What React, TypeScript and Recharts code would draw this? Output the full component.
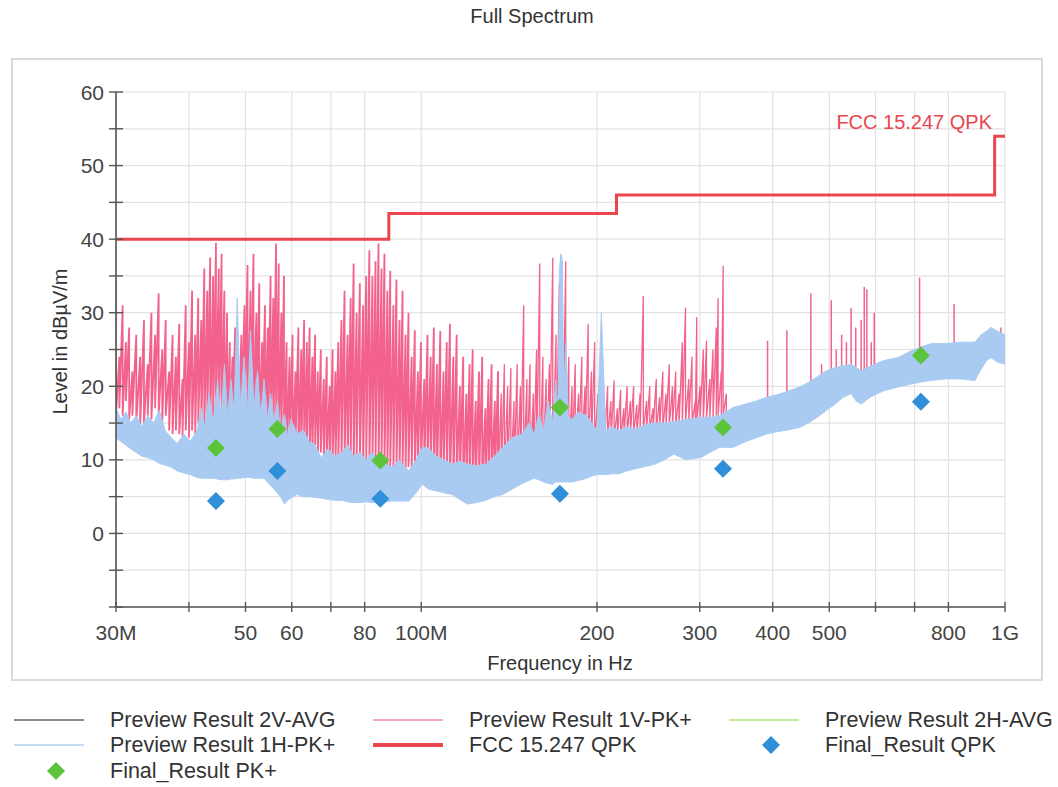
import React from 'react'
import { Area, CartesianGrid, ComposedChart, Line, Scatter, XAxis, YAxis } from 'recharts'

const FONT = '"Liberation Sans", Arial, sans-serif'

// frequency axis (MHz), labels blank where the original shows only a tick
const FREQ_TICKS = [30, 40, 50, 60, 70, 80, 100, 200, 300, 400, 500, 600, 700, 800, 1000]
const FREQ_TICK_LABELS = ['30M', '', '50', '60', '', '80', '100M', '200', '300', '400', '500', '', '', '800', '1G']
const LEVEL_TICKS = [-10, -5, 0, 5, 10, 15, 20, 25, 30, 35, 40, 45, 50, 55, 60]

// Preview Result 1V-PK+ : [MHz, peak, trough]
const PREVIEW_1V_PK: [number, number, number][] = [
  [30.0, 34.5, 16], [30.4, 24, 17], [30.8, 31, 16], [31.2, 26, 18], [31.6, 28, 15.5], [32.0, 22, 16], [32.5, 27, 15], [33.0, 24, 14.5],
  [33.5, 29, 15], [34.0, 23, 16], [34.5, 30, 15.5], [35.0, 27, 17], [35.5, 32.6, 16], [36.0, 25, 15], [36.5, 29, 16], [37.0, 22, 14],
  [37.5, 27, 13.5], [38.0, 24, 14], [38.5, 28.5, 13.5], [39.0, 21, 13], [39.5, 31, 14], [40.0, 26, 13], [40.5, 33, 14], [41.0, 27, 13.5],
  [41.5, 32, 15], [42.0, 29, 13], [42.5, 36, 14], [43.0, 33, 15], [43.5, 37.5, 13.5], [44.0, 35, 14], [44.5, 39.5, 16], [45.0, 36, 15],
  [45.5, 38, 14], [46.0, 33, 13], [46.5, 30, 14], [47.0, 26, 13.5], [47.5, 24, 15], [48.0, 28, 14], [48.6, 22, 14], [49.2, 27, 15],
  [49.8, 31, 14], [50.4, 36.5, 15], [51.0, 33, 14], [51.6, 38, 16], [52.2, 30, 15], [52.8, 34, 14], [53.4, 26, 15], [54.0, 31, 14],
  [54.6, 28, 13], [55.2, 35, 14], [55.8, 32, 12], [56.4, 39.4, 13], [57.0, 36.7, 12], [57.6, 30, 13], [58.2, 35, 12], [58.8, 26, 11],
  [59.5, 24, 11.5], [60.2, 27, 11], [60.9, 22, 12], [61.6, 28, 10], [62.3, 25, 11], [63.0, 29, 10.5], [63.7, 26, 12], [64.4, 28, 10],
  [65.1, 24, 11], [65.8, 27, 12], [66.5, 22, 10], [67.3, 25, 11], [68.1, 21, 9.5], [68.9, 24, 10], [69.7, 20, 9.5], [70.5, 25, 10],
  [71.3, 22, 9.5], [72.1, 26, 10], [73.0, 29, 9.5], [73.9, 33, 10], [74.8, 27, 9], [75.7, 32, 10], [76.6, 36.7, 9.5], [77.5, 30, 10],
  [78.5, 34, 9], [79.5, 31, 9.5], [80.5, 35, 10], [81.5, 38.5, 9], [82.5, 35, 9.5], [83.5, 37, 10], [84.5, 39.4, 9], [85.5, 36, 9.5],
  [86.5, 38, 9], [87.5, 33, 8.5], [88.5, 35.7, 9], [89.6, 31, 8.5], [90.7, 34.5, 9], [91.8, 29, 8.5], [92.9, 33, 9], [94.0, 27, 8.5],
  [95.1, 30, 9], [96.3, 24, 9], [97.5, 27.6, 8.5], [98.7, 22, 9], [99.9, 26, 9.5], [101.2, 21, 8], [102.5, 27, 9], [103.8, 24, 8],
  [105.1, 28, 7.5], [106.4, 23, 7], [107.8, 27.5, 7], [109.2, 22, 7.5], [110.6, 26, 7], [112.0, 28.5, 7], [113.5, 24, 6.5], [115.0, 27, 7],
  [116.5, 20, 7], [118.0, 24, 6.5], [119.5, 19, 6.5], [121.0, 23, 6.5], [122.5, 25, 7], [124.0, 18, 6.5], [125.6, 22, 6.5], [127.2, 24, 7],
  [128.8, 17, 6.5], [130.4, 21, 7], [132.0, 23, 7], [133.7, 18, 7], [135.4, 22, 7.5], [137.1, 19, 7], [138.8, 23, 7.5], [140.6, 20, 7.5],
  [142.4, 22.5, 7.5], [144.2, 18, 7.5], [146.0, 23, 8], [147.9, 20, 7.5], [149.8, 31, 7.5], [151.7, 21, 8], [153.6, 23, 7.5], [155.6, 19, 8],
  [157.6, 25, 8.5], [159.6, 36.7, 8], [161.6, 24, 9], [163.7, 21, 8.5], [165.8, 23, 9], [168.0, 37.5, 9], [170.2, 27, 9], [172.4, 34, 9.5],
  [174.6, 26, 9], [176.8, 37, 9.5], [179.0, 24, 10], [181.3, 20, 10], [183.6, 23, 11], [186.0, 19, 11], [188.4, 24, 11.5], [190.8, 20, 11.5],
  [193.2, 28.5, 11.5], [195.7, 22, 12], [198.2, 26, 12], [200.8, 19, 12], [203.4, 21, 12.5], [206.0, 17, 12], [208.6, 20, 13], [211.3, 18, 12.5],
  [214.0, 20.8, 13], [216.8, 17, 13], [219.6, 19.5, 13], [222.4, 17, 13], [225.3, 20, 13.5], [228.2, 18, 13.5], [231.1, 20, 13.5], [234.1, 17.5, 13.5],
  [237.1, 19, 13.5], [240.1, 32.3, 14], [243.2, 18, 14], [246.3, 20, 14], [249.5, 17, 14], [252.7, 21, 14], [256.0, 18.5, 14], [259.3, 22, 14],
  [262.6, 19, 14.5], [266.0, 23, 14.5], [269.4, 20, 14.5], [272.9, 22, 14.5], [276.4, 19, 14.5], [280.0, 26, 14.5], [283.6, 30.7, 15], [287.3, 21, 15],
  [291.0, 24, 15], [294.7, 18, 15], [296.5, 29.4, 15], [300.3, 20, 15], [304.2, 25, 15], [308.1, 26.2, 15.5], [312.1, 21, 15.5], [316.1, 25, 15.5],
  [320.2, 28, 16], [322.5, 32, 16], [326.6, 22, 16], [329.0, 36.4, 16], [333.2, 19, 15], [337.5, 16, 14],
  [345, 15.5, 13], [355, 16, 13.5], [365, 16.5, 14], [375, 17, 14.5], [385, 17, 14.5], [392, 26.2, 15], [400, 17.3, 15], [410, 18.5, 15.5],
  [423, 27.6, 15.5], [435, 18.5, 16], [445, 19, 16.5], [455, 19.5, 16.5], [465, 32.6, 17], [475, 20, 17.5], [485, 23, 18], [494, 21.5, 18.5],
  [504, 31.7, 19], [514, 25, 19.5], [525, 27, 20], [535, 26, 20.5], [545, 30.6, 20.5], [555, 28, 20], [567, 29, 19.5], [574, 33.5, 20],
  [580, 33.2, 20.5], [590, 26, 20.5], [597, 30, 20.5], [610, 22, 21], [625, 22.5, 21], [640, 22.5, 21.5], [655, 23, 21.5], [670, 23.5, 22],
  [685, 23.5, 22], [700, 24, 22.5], [714, 34.8, 22.5], [730, 24.5, 23], [745, 25, 23], [760, 24.5, 23], [775, 25, 23.5], [790, 24.5, 23.5],
  [805, 25, 23.5], [818, 31.2, 23.5], [835, 25, 23.5], [850, 24.5, 23], [870, 25, 23], [890, 25, 22.5], [910, 26, 23], [930, 26.5, 24],
  [950, 27, 24.5], [970, 26.5, 24], [984, 28, 24], [1000, 26.5, 24],
]

// Preview Result 1H-PK+ : [MHz, low, high]
const PREVIEW_1H_PK: [number, number, number][] = [
  [30.0, 13, 17], [30.6, 12.5, 15.5], [31.2, 12, 16.5], [31.8, 11.5, 15], [32.5, 11, 16], [33.2, 10.5, 14.5], [34.0, 10.3, 16], [34.8, 10, 15],
  [35.6, 9.5, 16.7], [36.4, 9.3, 14], [37.3, 9, 13], [38.2, 8.5, 12.2], [39.2, 8.2, 13.5], [40.2, 8, 12.5], [41.3, 7.6, 14], [42.0, 7.5, 17],
  [42.6, 7.5, 14.5], [43.3, 7.5, 19], [44.0, 7.5, 15], [44.8, 7.4, 20.8], [45.4, 7.3, 15.5], [46.0, 7.3, 23], [46.6, 7.3, 16], [47.2, 7.4, 21],
  [47.8, 7.4, 16.5], [48.4, 7.5, 32], [49.0, 7.5, 17], [49.7, 7.6, 24], [50.4, 7.6, 16.5], [51.0, 7.6, 27.6], [51.7, 7.5, 17], [52.4, 7.5, 22],
  [53.1, 7.5, 16], [53.8, 7.5, 21], [54.5, 7, 15.5], [55.2, 6.5, 19], [56.0, 6, 15], [56.7, 5.5, 18], [57.4, 5, 14], [58.3, 4, 16.2],
  [59.1, 4.5, 13], [59.8, 4.8, 15.5], [61.3, 5.3, 13.5], [62.8, 5, 14], [64.3, 5, 12.5], [65.8, 4.9, 12], [67.4, 4.8, 10.3], [69.2, 4.6, 11.5],
  [71.1, 4.5, 10.5], [73.0, 4.5, 11], [74.8, 4.3, 12], [76.6, 4.2, 10.5], [78.5, 4.2, 11], [80.4, 4.3, 10], [82.3, 4.2, 11], [84.3, 4.2, 10],
  [86.6, 4.3, 9.5], [89.0, 4.4, 9], [91.6, 4.4, 10], [95.2, 4.4, 8.5], [98.0, 5.5, 10], [100.3, 6.7, 11.7], [103.0, 6, 11.6], [106.0, 5.8, 10.5],
  [109.5, 5.5, 10], [113.0, 5.3, 9.4], [116.5, 4.6, 9.8], [120.0, 4, 9.4], [124.5, 4.2, 9.2], [129.0, 4.5, 9.4], [133.5, 5, 10.5], [138.0, 5.3, 11.7],
  [143.0, 6, 13], [149.0, 6.8, 13.5], [153.0, 7.2, 15], [156.0, 7.5, 13.5], [159.0, 7.3, 16.2], [162.0, 7, 14], [165.0, 6.8, 18], [168.0, 6.7, 15],
  [170.0, 7, 20.8], [171.5, 7, 16], [172.5, 7, 36], [173.5, 7, 38], [174.5, 7, 37], [175.5, 7, 18], [177.0, 7, 26], [178.5, 7, 16],
  [181.0, 7, 15.5], [186.0, 7.2, 16.5], [192.0, 7.5, 16], [196.0, 7.8, 15], [200.0, 8, 14], [203.5, 8, 30], [207.0, 8, 14], [212.0, 8.1, 14.5],
  [218.0, 8.1, 14], [225.0, 8.5, 14.5], [233.0, 8.8, 14.2], [242.0, 9.1, 14.8], [251.0, 9.4, 15], [261.0, 10, 15], [271.0, 10.8, 15.2], [284.0, 10, 15.5],
  [293.0, 10.2, 15.6], [301.0, 10.3, 15.8], [312.0, 11, 15.8], [324.0, 11.7, 16], [342.0, 11.7, 17.1], [360.0, 12.5, 17.6], [375.0, 13, 18], [390.0, 13.5, 18.5],
  [405.0, 13.8, 18.8], [420.0, 14, 19.2], [445.0, 14.4, 19.9], [460.0, 15, 20.5], [477.0, 15.8, 21.3], [494.0, 16.7, 22.1], [510.0, 17.5, 22.5], [528.0, 18.5, 22.8],
  [545.0, 19, 23], [556.0, 18, 22.6], [567.0, 17.6, 22.1], [590.0, 18.6, 22.8], [620.0, 19.4, 23.5], [656.0, 19.9, 23.9], [690.0, 20.3, 24.8], [720.0, 20.6, 25.4],
  [748.0, 20.8, 25.8], [790.0, 21, 25.8], [840.0, 21, 26], [888.0, 20.8, 26], [910.0, 22.3, 27], [930.0, 23.5, 27.5], [946.0, 23.9, 28], [970.0, 23.3, 27.5],
  [1000.0, 23, 27],
]

// FCC 15.247 QPK limit
const LIMIT_FREQ = [30, 88, 216, 960, 1000]
const LIMIT_LEVEL = [40, 43.5, 46, 54, 54]

// final measurements
const FINAL_FREQ = [44.5, 56.7, 85.1, 172.8, 328.8, 717.6]
const FINAL_PK = [11.6, 14.2, 9.9, 17.1, 14.4, 24.2]
const FINAL_QPK = [4.4, 8.5, 4.7, 5.4, 8.8, 17.9]

const PINK = '#f2628c'
const LIGHT_BLUE = '#a9cbf2'
const RED = '#ea464d'
const GREEN = '#5cc43a'
const BLUE = '#2f8fd8'

type Row = [number, number, number]
// sawtooth: peak then trough at each sample
const sawtooth = (rows: Row[]) => rows.flatMap(([f, hi, lo]) => [{ f, v: hi }, { f, v: lo }])
// single vertical spike per sample: trough -> peak -> trough
const spikes = (rows: Row[]) => rows.flatMap(([f, hi, lo]) => [{ f, v: lo }, { f, v: hi }, { f, v: lo }])

const pinkDense = sawtooth(PREVIEW_1V_PK.filter(r => r[0] <= 136))
const pinkMid = sawtooth(PREVIEW_1V_PK.filter(r => r[0] >= 135 && r[0] <= 338))
const pinkUpper = spikes(PREVIEW_1V_PK.filter(r => r[0] >= 337))
const blueData = PREVIEW_1H_PK.map(([f, lo, hi]) => ({ f, band: [lo, hi] }))
const limitData = LIMIT_FREQ.map((f, i) => ({ f, v: LIMIT_LEVEL[i] }))
const pkData = FINAL_FREQ.map((f, i) => ({ f, v: FINAL_PK[i] }))
const qpkData = FINAL_FREQ.map((f, i) => ({ f, v: FINAL_QPK[i] }))

const diamond = (color: string) => (props: any) => {
  const { cx, cy } = props
  const r = 9
  return <polygon points={`${cx},${cy - r} ${cx + r},${cy} ${cx},${cy + r} ${cx - r},${cy}`} fill={color} />
}

const YTick = (props: any) => {
  const { x, y, payload } = props
  const v = payload.value
  return (
    <g>
      <line x1={x - 7} x2={x + 7} y1={y} y2={y} stroke="#555" strokeWidth={1.4} />
      {v >= 0 && v % 10 === 0 && (
        <text x={x - 12} y={y} dy="0.36em" textAnchor="end" fontSize={21} fill="#444" fontFamily={FONT}>{v}</text>
      )}
    </g>
  )
}

const XTick = (props: any) => {
  const { x, y, payload } = props
  const label = FREQ_TICK_LABELS[FREQ_TICKS.indexOf(payload.value)] ?? ''
  return (
    <g>
      <line x1={x} x2={x} y1={y - 5} y2={y + 5} stroke="#555" strokeWidth={1.4} />
      {label && (
        <text x={x} y={y + 25} dy="0.36em" textAnchor="middle" fontSize={21} fill="#444" fontFamily={FONT}>{label}</text>
      )}
    </g>
  )
}

const LegendLine = ({ color, width = 2 }: { color: string; width?: number }) => (
  <svg width={72} height={10} style={{ position: 'absolute', left: -96, top: 7 }}>
    <line x1={0} x2={70} y1={5} y2={5} stroke={color} strokeWidth={width} />
  </svg>
)

const LegendDiamond = ({ color }: { color: string }) => (
  <svg width={20} height={20} style={{ position: 'absolute', left: -64, top: 2 }}>
    <polygon points="10,1 19,10 10,19 1,10" fill={color} />
  </svg>
)

const legendItems = [
  { x: 110, y: 708, name: 'Preview Result 2V-AVG', mark: <LegendLine color="#8a8a8a" /> },
  { x: 469, y: 708, name: 'Preview Result 1V-PK+', mark: <LegendLine color="#f7a7bd" /> },
  { x: 825, y: 708, name: 'Preview Result 2H-AVG', mark: <LegendLine color="#c3e8a0" /> },
  { x: 110, y: 733, name: 'Preview Result 1H-PK+', mark: <LegendLine color="#c4dcf5" /> },
  { x: 469, y: 733, name: 'FCC 15.247 QPK', mark: <LegendLine color={RED} width={4} /> },
  { x: 825, y: 733, name: 'Final_Result QPK', mark: <LegendDiamond color={BLUE} /> },
  { x: 110, y: 759, name: 'Final_Result PK+', mark: <LegendDiamond color={GREEN} /> },
]

export default function App() {
  return (
    <div style={{ position: 'absolute', left: 0, top: 0, width: 1058, height: 787, background: '#fff', fontFamily: FONT, color: '#333' }}>
      <div style={{ position: 'absolute', left: 0, top: 5, width: 1064, textAlign: 'center', fontSize: 20 }}>Full Spectrum</div>
      <div style={{ position: 'absolute', left: 11, top: 58, width: 1032, height: 623, border: '2px solid #dadada', boxSizing: 'border-box' }} />

      <div style={{ position: 'absolute', left: 0, top: 0 }}>
        <ComposedChart width={1058} height={690} margin={{ top: 92, right: 53, left: 56, bottom: 53 }}>
          <CartesianGrid stroke="#e2e2e2" strokeWidth={1.2} />
          <XAxis
            dataKey="f"
            type="number"
            scale="log"
            domain={[30, 1000]}
            ticks={FREQ_TICKS}
            interval={0}
            allowDataOverflow
            height={30}
            tickSize={0}
            tickMargin={0}
            tickLine={false}
            tick={XTick}
            axisLine={{ stroke: '#555', strokeWidth: 1.6 }}
          />
          <YAxis
            type="number"
            domain={[-10, 60]}
            ticks={LEVEL_TICKS}
            interval={0}
            allowDataOverflow
            width={60}
            tickSize={0}
            tickMargin={0}
            tickLine={false}
            tick={YTick}
            axisLine={{ stroke: '#555', strokeWidth: 1.6 }}
          />
          {/* sweeps as stroke-only areas so the 1H band is painted over the 1V trace */}
          <Area data={pinkDense} dataKey="v" type="linear" stroke={PINK} strokeWidth={1.8} fill="none" dot={false} activeDot={false} isAnimationActive={false} />
          <Area data={pinkMid} dataKey="v" type="linear" stroke={PINK} strokeWidth={1.3} fill="none" dot={false} activeDot={false} isAnimationActive={false} />
          <Area data={pinkUpper} dataKey="v" type="linear" stroke={PINK} strokeWidth={1.5} fill="none" dot={false} activeDot={false} isAnimationActive={false} />
          <Area data={blueData} dataKey="band" type="linear" stroke={LIGHT_BLUE} strokeWidth={1} fill={LIGHT_BLUE} fillOpacity={1} dot={false} activeDot={false} isAnimationActive={false} />
          <Line data={limitData} dataKey="v" type="stepAfter" stroke={RED} strokeWidth={3} dot={false} isAnimationActive={false} />
          <Scatter data={qpkData} dataKey="v" shape={diamond(BLUE)} isAnimationActive={false} />
          <Scatter data={pkData} dataKey="v" shape={diamond(GREEN)} isAnimationActive={false} />
        </ComposedChart>
      </div>

      <div style={{ position: 'absolute', left: 992 - 300, width: 300, top: 111, textAlign: 'right', color: RED, fontSize: 20 }}>FCC 15.247 QPK</div>
      <div style={{ position: 'absolute', left: 60 - 100, top: 342 - 12, width: 200, textAlign: 'center', fontSize: 20, transform: 'rotate(-90deg)' }}>Level in dBµV/m</div>
      <div style={{ position: 'absolute', left: 460, width: 200, top: 652, textAlign: 'center', fontSize: 20 }}>Frequency in Hz</div>

      {legendItems.map(item => (
        <div key={item.name} style={{ position: 'absolute', left: item.x, top: item.y, fontSize: 21.5, whiteSpace: 'nowrap' }}>
          {item.mark}
          {item.name}
        </div>
      ))}
    </div>
  )
}
